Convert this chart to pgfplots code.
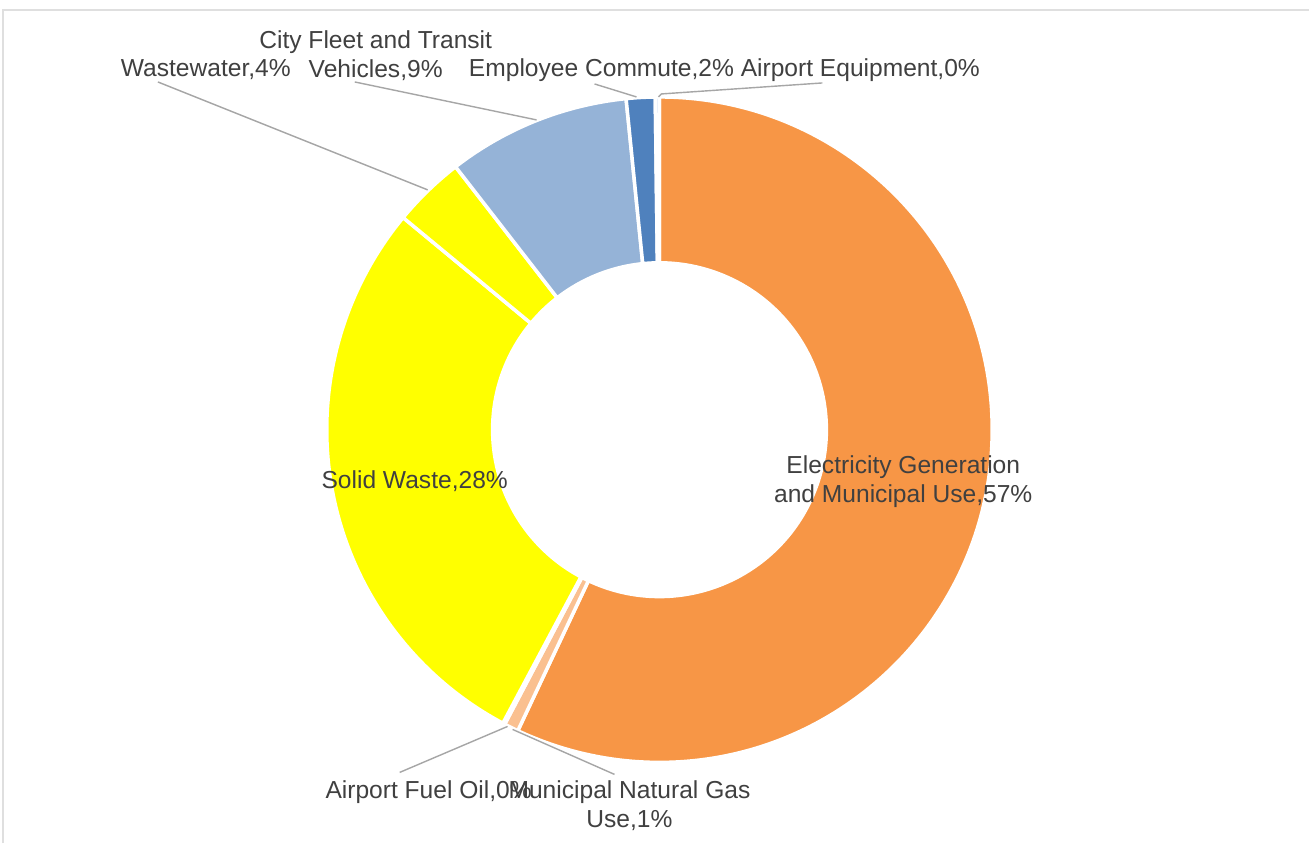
\documentclass[border=0pt]{standalone}
\usepackage{pgfplots}
\pgfplotsset{compat=1.18}
\usepackage{pgfplotstable}
\usepackage{fontspec}
\setmainfont{Liberation Sans}

\definecolor{cElec}{HTML}{F79646}
\definecolor{cGas}{HTML}{FAC090}
\definecolor{cFuel}{HTML}{FCD5B5}
\definecolor{cSolid}{HTML}{FFFF00}
\definecolor{cWaste}{HTML}{FFFF00}
\definecolor{cFleet}{HTML}{95B3D7}
\definecolor{cCommute}{HTML}{4F81BD}
\definecolor{cEquip}{HTML}{C6D9F1}
\definecolor{txt}{HTML}{404040}
\definecolor{lead}{HTML}{A6A6A6}

% share of emissions, clockwise from 12 o'clock
\pgfplotstableread[col sep=comma]{
label,value
Electricity,57.0
NatGas,0.7
FuelOil,0.1
SolidWaste,28.2
Wastewater,3.5
Fleet,8.9
Commute,1.4
Equipment,0.2
}\datatable

\begin{document}
\begin{tikzpicture}
\begin{axis}[hide axis, scale only axis, width=13.1cm, height=8.44cm,
  xmin=0, xmax=1310, ymin=0, ymax=844, y dir=reverse, clip=false]
\pgfplotsextra{
  \path[fill=white] (axis cs:0,0) rectangle (axis cs:1310,844);
  \draw[gray!25, line width=0.6pt] (axis cs:3,844) -- (axis cs:3,10) -- (axis cs:1310,10);
  \xdef\cum{0}
  \foreach \i/\col in {0/cElec,1/cGas,2/cFuel,3/cSolid,4/cWaste,5/cFleet,6/cCommute,7/cEquip}{
    \pgfplotstablegetelem{\i}{value}\of\datatable
    \let\val\pgfplotsretval
    \pgfmathsetmacro\aone{90-3.6*\cum}
    \pgfmathsetmacro\atwo{90-3.6*(\cum+\val)}
    \fill[\col, draw=white, line width=1pt] (axis cs:660,430) ++(\aone:3.33cm)
      arc[start angle=\aone, end angle=\atwo, radius=3.33cm]
      -- ++(\atwo+180:1.66cm)
      arc[start angle=\atwo, end angle=\aone, radius=1.67cm] -- cycle;
    \pgfmathsetmacro\tmp{\cum+\val}
    \xdef\cum{\tmp}
  }
  % leader lines
  \draw[lead, line width=0.4pt] (axis cs:158,82) -- (axis cs:428,190);
  \draw[lead, line width=0.4pt] (axis cs:355,82) -- (axis cs:537,120);
  \draw[lead, line width=0.4pt] (axis cs:595,84) -- (axis cs:637,97);
  \draw[lead, line width=0.4pt] (axis cs:659,97) -- (axis cs:662,94) -- (axis cs:823,83);
  \draw[lead, line width=0.4pt] (axis cs:400,773) -- (axis cs:508,727);
  \draw[lead, line width=0.4pt] (axis cs:513,730) -- (axis cs:615,775);
  % labels
  \begingroup
  \fontsize{7}{8.2}\selectfont
  \tikzset{every node/.style={text=txt, inner sep=0pt, align=center}}
  \node at (axis cs:376,56) {City Fleet and Transit\\Vehicles,9\%};
  \node at (axis cs:206,70) {Wastewater,4\%};
  \node at (axis cs:602,70) {Employee Commute,2\%};
  \node at (axis cs:861,70) {Airport Equipment,0\%};
  \node at (axis cs:904,482) {Electricity Generation\\and Municipal Use,57\%};
  \node at (axis cs:415,482) {Solid Waste,28\%};
  \node at (axis cs:429,793) {Airport Fuel Oil,0\%};
  \node at (axis cs:630,806) {Municipal Natural Gas\\Use,1\%};
  \endgroup
}
\end{axis}
\end{tikzpicture}
\end{document}
